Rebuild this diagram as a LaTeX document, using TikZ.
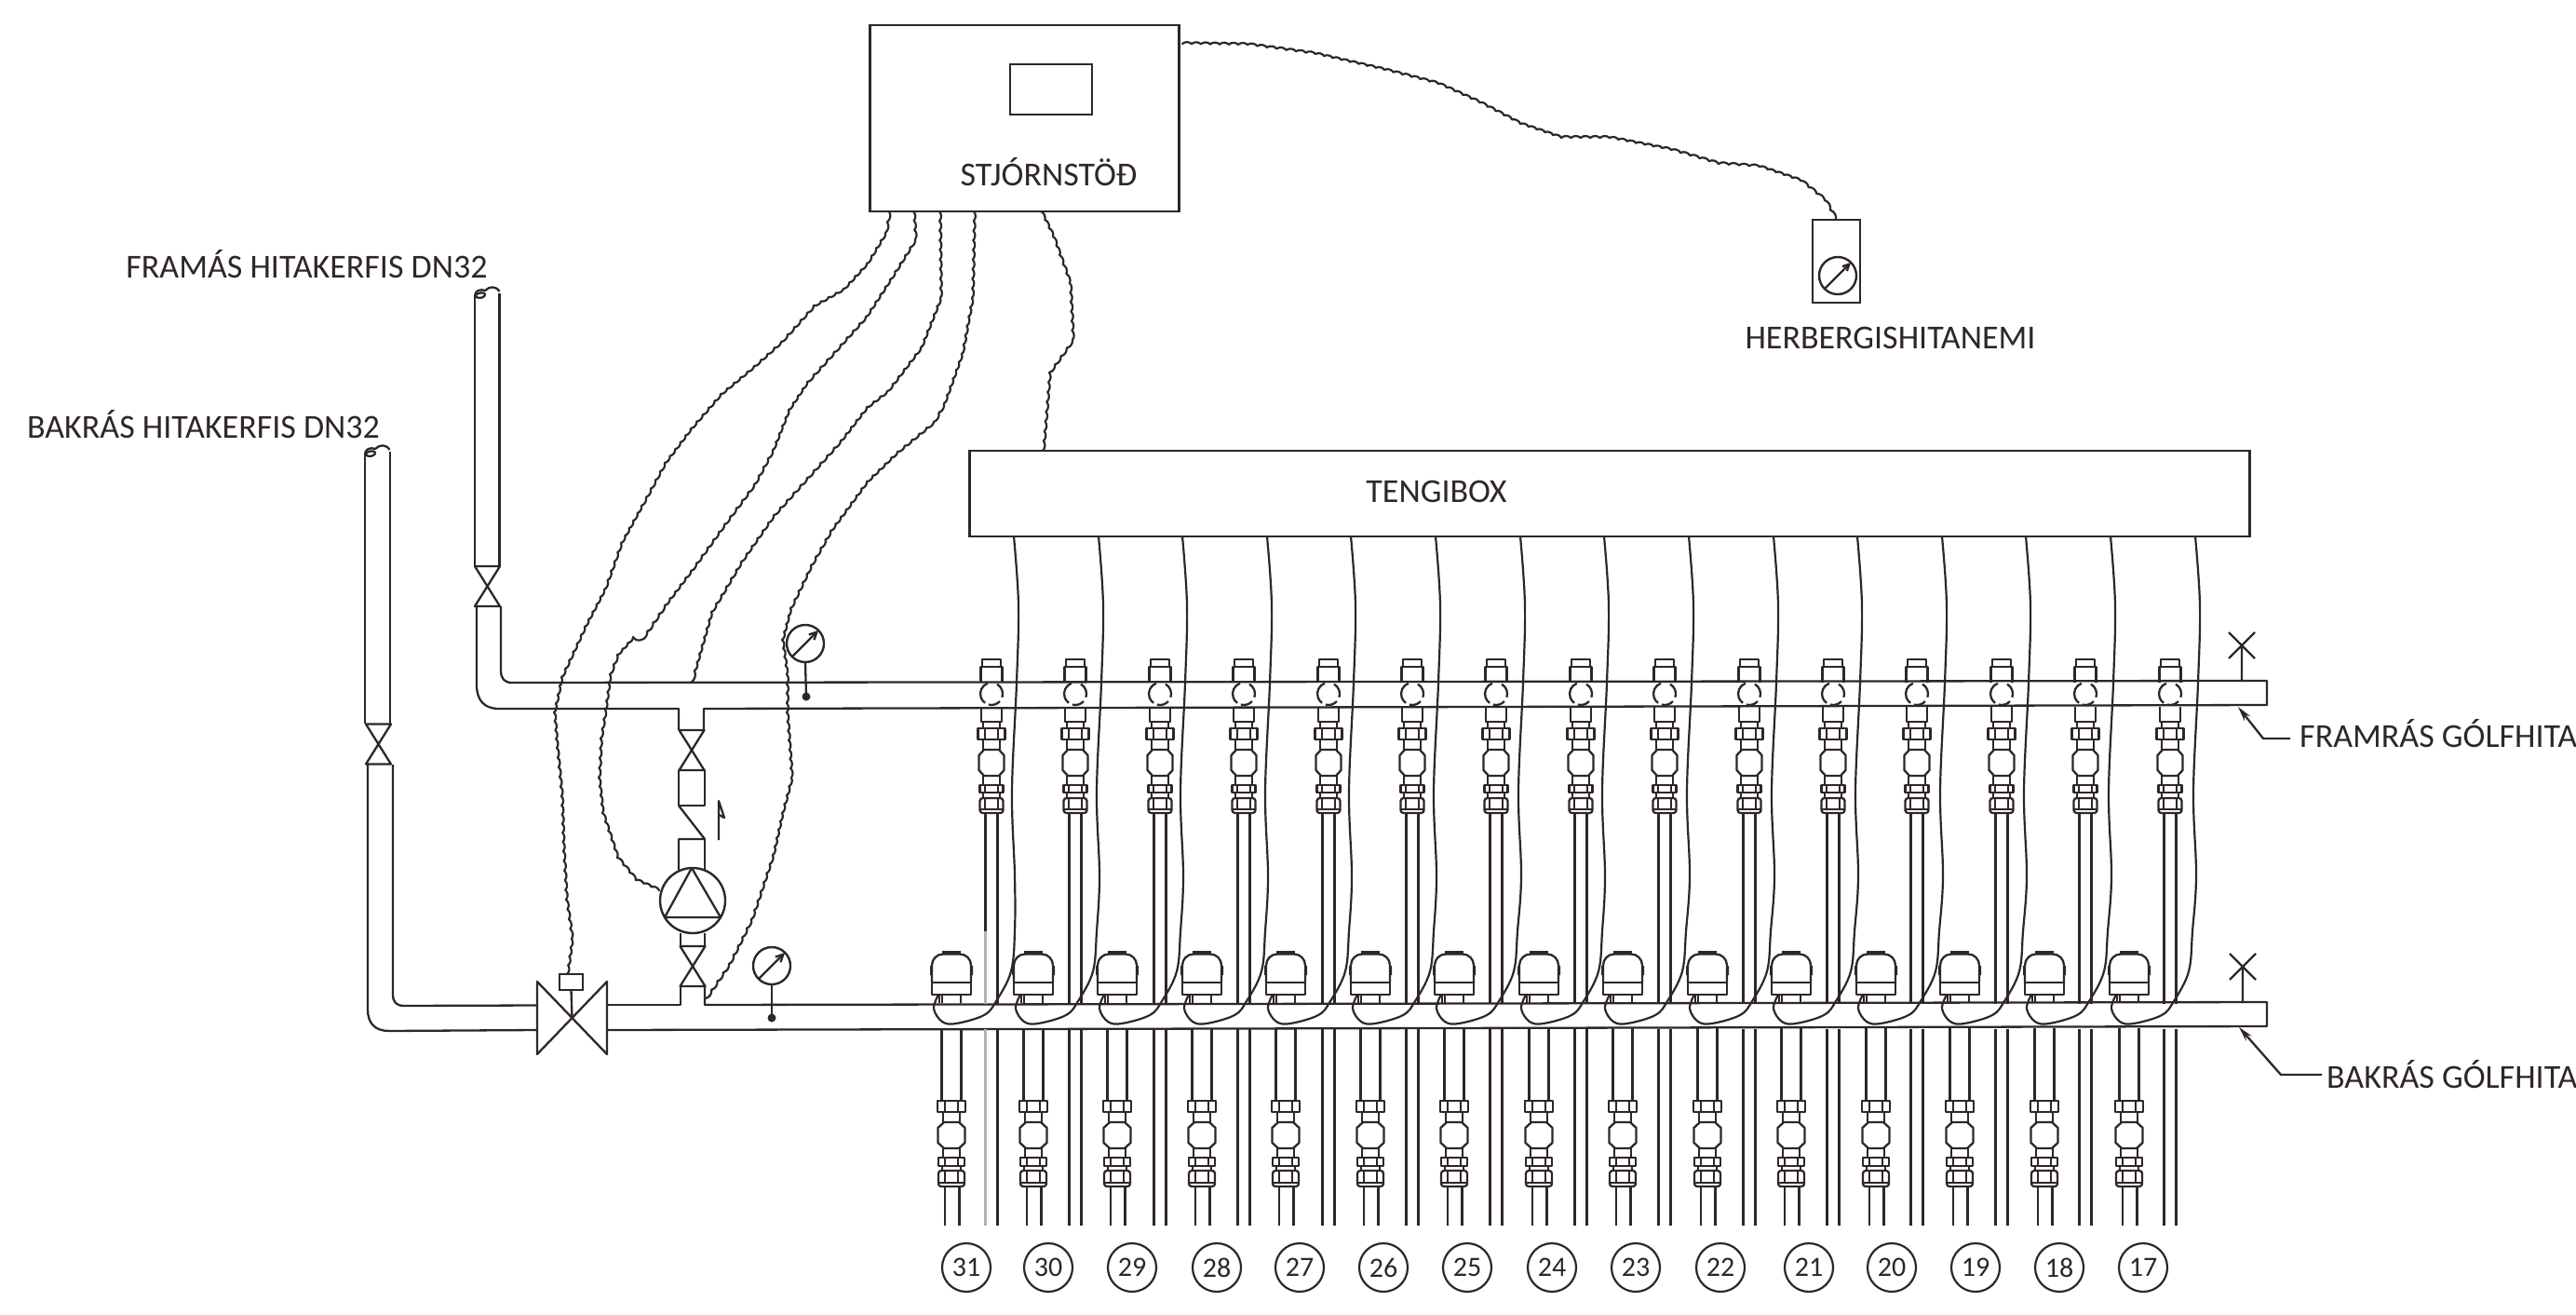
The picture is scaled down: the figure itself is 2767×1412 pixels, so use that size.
\documentclass[tikz,border=0pt]{standalone}
\usepackage{fontspec}
\setmainfont{Carlito}
\usetikzlibrary{calc,arrows.meta}
\definecolor{ink}{HTML}{2E2627}
\newcommand\bumpwire[3]{%
  \foreach \wx/\wy [remember=\wx as \px (initially #1), remember=\wy as \py (initially #2)] in {#3}{%
    \pgfmathtruncatemacro\nn{max(1,round(veclen(\wx-\px,\wy-\py)/10))}%
    \foreach \ii in {1,...,\nn}{%
      \draw[wire] ($(\px,\py)!{(\ii-1)/\nn}!(\wx,\wy)$) to[bend left=40] ($(\px,\py)!{\ii/\nn}!(\wx,\wy)$);
    }%
  }%
}
\tikzset{
  x=1pt,y=-1pt,
  ln/.style={draw=ink,line width=2.3pt,line join=round},
  thin ln/.style={draw=ink,line width=1.9pt,line join=round},
  box/.style={draw=ink,line width=2.6pt,inner sep=0pt,outer sep=0pt,rectangle},
  lab/.style={text=ink,inner sep=0pt,font=\fontsize{36}{38}\selectfont},
  numc/.style={draw=ink,line width=2.2pt,circle,minimum size=52pt,inner sep=0pt,outer sep=0pt,text=ink,font=\fontsize{30}{32}\selectfont},
  gauge/.style={draw=ink,line width=2.4pt,circle,inner sep=0pt,outer sep=0pt},
  wire/.style={draw=ink,line width=2.2pt,line cap=round},
  loopw/.style={draw=ink,line width=2.2pt},
  upfit/.pic={
    \draw[ln] (-10,716)--(-10,708)--(10,708)--(10,716);
    \draw[ln] (-11.5,733)--(-11.5,716)--(11.5,716)--(11.5,733);
    \draw[ln] (0,745) ++(110:12pt) arc[start angle=110,end angle=235,radius=12pt];
    \draw[ln] (0,745) ++(60:12pt) arc[start angle=60,end angle=-18,radius=12pt];
    \draw[ln] (0,745) ++(255:12pt) arc[start angle=255,end angle=318,radius=12pt];
    \draw[ln] (-11,759)--(-11,775)--(11,775)--(11,759);
    \draw[ln] (-9,775)--(-9,782) (9,775)--(9,782);
    \draw[ln] (-14.5,782) rectangle (14.5,794);
    \draw[thin ln] (-7,782)--(-7,794) (7,782)--(7,794);
    \draw[ln] (-9,794)--(-9,806) (9,794)--(9,806);
    \draw[ln] (-8,805)--(8,805)--(13.5,811)--(13.5,827)--(8,833)--(-8,833)--(-13.5,827)--(-13.5,811)--cycle;
    \draw[ln] (-9,833)--(-9,843) (9,833)--(9,843);
    \draw[ln] (-12.5,843) rectangle (12.5,851);
    \draw[thin ln] (-7,843)--(-7,851) (7,843)--(7,851);
    \draw[ln] (-9,851)--(-9,857) (9,851)--(9,857);
    \draw[ln,rounded corners=3pt] (-12.5,857)--(-12.5,873)--(12.5,873)--(12.5,857)--cycle;
    \draw[ln] (-12.5,869)--(12.5,869);
    \draw[thin ln] (-7,857)--(-7,869) (7,857)--(7,869);
  },
  actuator/.pic={
    \fill[ink] (-10,1021) rectangle (10,1024.5);
    \draw[ln,rounded corners=12pt] (-21,1055)--(-21,1024.5)--(21,1024.5)--(21,1055);
    \draw[ln] (-21,1055) rectangle (21,1068);
    \fill[ink] (-23,1037) rectangle (-21,1047) (21,1037) rectangle (23,1047);
    \draw[ln] (-10,1068)--(-10,1077) (10,1068)--(10,1077) (-13,1068)--(-13,1077);
  },
  lowfit/.pic={
    \draw[ln] (-10.5,1104)--(-10.5,1182) (10.5,1104)--(10.5,1182);
    \draw[ln] (-15,1182) rectangle (15,1194);
    \draw[thin ln] (-7,1182)--(-7,1194) (7,1182)--(7,1194);
    \draw[ln] (-9,1194)--(-9,1205) (9,1194)--(9,1205);
    \draw[ln] (-8,1205)--(8,1205)--(14.5,1211)--(14.5,1227)--(8,1233)--(-8,1233)--(-14.5,1227)--(-14.5,1211)--cycle;
    \draw[ln] (-9,1233)--(-9,1243) (9,1233)--(9,1243);
    \draw[ln] (-14,1243) rectangle (14,1252);
    \draw[thin ln] (-7,1243)--(-7,1252) (7,1243)--(7,1252);
    \draw[ln] (-10,1252)--(-10,1257) (10,1252)--(10,1257);
    \draw[ln,rounded corners=3pt] (-14,1257)--(-14,1274)--(14,1274)--(14,1257)--cycle;
    \draw[ln] (-14,1270)--(14,1270);
    \draw[thin ln] (-7,1257)--(-7,1270) (7,1257)--(7,1270);
    \draw[ln] (-7,1274)--(-7,1316) (8.5,1274)--(8.5,1316);
  },
  bowtie/.pic={
    \draw[ln] (-13.5,-21.5)--(13.5,-21.5)--(-13.5,21.5)--(13.5,21.5)--cycle;
  },
  vent/.pic={
    \draw[ln] (-14,-14)--(14,14) (14,-14)--(-14,14) (0,0)--(0,39);
  },
  pipetop/.pic={
    \draw[ln] (0,8)..controls (0,2) and (6,0) .. (11,2) ..controls (16,-3) and (23,-3) .. (26.5,3);
    \draw[ln] (0,8)..controls (3,4) and (10,3) .. (11,6) .. controls (12,9) and (4,12) .. (0,8);
  }
}
\begin{document}
\begin{tikzpicture}
\useasboundingbox (0,0) rectangle (2767,1412);
% top boxes
\node[box,minimum width=332pt,minimum height=200pt] (ctrl) at (1100.5,127) {};
\node[box,minimum width=88pt,minimum height=54pt] (screen) at (1129,96) {};
\node[lab] (ctrllab) at (1126.5,185) {STJÓRNSTÖÐ};
\node[box,minimum width=1375pt,minimum height=92pt] (tengibox) at (1729,530) {};
\node[lab] (tengilab) at (1543,528) {TENGIBOX};
\node[box,minimum width=51pt,minimum height=89pt] (sensor) at (1972.5,280.5) {};
\node[gauge,minimum size=40pt] (sg) at (1974,296) {};
\draw[ln,-{Straight Barb[length=7pt,width=7pt]}] (sg.south west)--(sg.north east);
\node[lab] (senslab) at (2030.5,363) {HERBERGISHITANEMI};
\node[lab] (framlab) at (329.5,284) {FRAMÁS HITAKERFIS DN32};
\node[lab] (baklab) at (218.5,456) {BAKRÁS HITAKERFIS DN32};
\node[lab,anchor=west] (framr) at (2470,788) {FRAMRÁS GÓLFHITA};
\node[lab,anchor=west] (bakr) at (2499,1154) {BAKRÁS GÓLFHITA};
% feeder pipes
\draw[ln] (510,318)--(510,608) (536.5,315)--(536.5,608);
\pic at (510,310) {pipetop};
\pic at (523.5,629.5) {bowtie};
\draw[ln] (392,488)--(392,777) (419,485)--(419,777);
\pic at (392,480) {pipetop};
\pic at (406.5,799) {bowtie};
% upper main
\draw[ln] (512,651)--(512,735)..controls (512,752) and (520,761) .. (536,761)--(729,761)--(729,784);
\draw[ln] (756,784)--(756,761)--(2435,757)--(2435,731)--(550,733)..controls (542,733) and (538,729) .. (538,720)--(538,651);
% lower main
\draw[ln] (395,821)--(395,1084)..controls (395,1099) and (403,1107) .. (418,1107)--(577,1106);
\draw[ln] (422,821)--(422,1068)..controls (422,1076) and (426,1080) .. (434,1080)--(577,1079.5);
\draw[ln] (652,1079)--(731,1079)--(731,1059);
\draw[ln] (757,1059)--(757,1079)--(2435,1076)--(2435,1102)--(652,1106);
% motor valve
\draw[ln] (577,1054)--(652,1132)--(652,1054)--(577,1132)--cycle;
\node[box,minimum width=25pt,minimum height=17pt] (act) at (613.5,1054.5) {};
\coordinate (mvc) at (614.5,1093);
\draw[ln] (act.south)--(mvc);
% pump branch
\pic at (743,805.5) {bowtie};
\draw[ln] (729,827) rectangle (757,865);
\draw[ln] (729,865)--(757,901)--(729,901)--(729,934);
\draw[ln] (757,901)--(757,934);
\node[gauge,minimum size=70pt] (pump) at (744,967) {};
\draw[ln] (743,932)--(714,985)--(774,985)--cycle;
\draw[ln] (731,1002)--(731,1016)--(757,1016)--(757,1002);
\pic at (744,1037.5) {bowtie};
\draw[ln] (772,902)--(772,860)--(778,878)--(772.5,875);
% gauges
\node[gauge,minimum size=40pt] (g1) at (865,691) {};
\coordinate (g1d) at (866,748);
\draw[ln,-{Straight Barb[length=8pt,width=8pt]}] (g1.south west)--(g1.north east);
\draw[ln] (g1.south)--(g1d);
\fill[ink] (g1d) circle[radius=4.5pt];
\node[gauge,minimum size=40pt] (g2) at (829,1037) {};
\coordinate (g2d) at (829,1093);
\draw[ln,-{Straight Barb[length=8pt,width=8pt]}] (g2.south west)--(g2.north east);
\draw[ln] (g2.south)--(g2d);
\fill[ink] (g2d) circle[radius=4.5pt];
% vents
\pic at (2408,693) {vent};
\pic at (2409,1038) {vent};
% leaders
\coordinate (a1) at (2404,759); \coordinate (a1m) at (2431,793); \coordinate (a1e) at (2460,793);
\coordinate (a2) at (2405,1103); \coordinate (a2m) at (2450,1154); \coordinate (a2e) at (2494,1154);
\draw[ln,-{Stealth[length=16pt,width=8pt]}] (a1e)--(a1m)--(a1);
\draw[ln,-{Stealth[length=16pt,width=8pt]}] (a2e)--(a2m)--(a2);
% scalloped wires
\bumpwire{1270}{47}{1340/48,1413/58,1487/75,1545/90,1589/110,1633/133,1677/148,1729/148,1795/161,1846/176,1890/179,1934/194,1960/215,1972/236}
\bumpwire{1118}{227}{1131/254,1149/304,1152/365,1127/400,1120/484}
\bumpwire{955}{227}{951/250,931/283,906/310,874/328,839/367,810/393,774/423,742/460,714/497,689/543,667/583,649/633,628/673,603/727,595/765,598/803,603/855,605/914,608/966,614/1008,609/1046}
\bumpwire{981}{227}{983/257,956/300,930/340,903/370,867/410,847/440,830/483,810/520,778/563,742/613,714/650,689/687,680/684,663/703,655/724,650/762,645/793,643/835,647/873,663/921,683/945,708/956}
\bumpwire{1009}{227}{1010/320,989/373,953/420,931/437,903/473,867/513,831/553,796/603,764/657,746/720,742/733}
\bumpwire{1046}{227}{1044/320,1033/380,1014/433,1003/453,964/485,931/517,892/570,871/607,849/653,840/687,845/724,845/765,850/835,840/873,830/918,807/987,783/1035,758/1072}
% repeated columns
\foreach \u/\c/\T/\nx/\n in {
 1065/1022/1089/1038/31,1155/1110/1180/1126/30,1246/1200/1270/1216/29,1336/1291/1361/1307/28,
 1427/1381/1451/1396/27,1517/1472/1542/1486/26,1607/1562/1633/1576/25,1698/1653/1723/1667/24,
 1788/1743/1814/1757/23,1879/1834/1905/1848/22,1969/1924/1995/1943/21,2059/2015/2086/2032/20,
 2150/2105/2176/2122/19,2240/2196/2267/2212/18,2331/2287/2358/2302/17}{
  \pic at (\u,0) {upfit};
  \draw[ln] (\u-6.5,873)--(\u-6.5,1078) (\u+6.5,873)--(\u+6.5,1078);
  \draw[ln] (\u-6.5,1105)--(\u-6.5,1316) (\u+6.5,1105)--(\u+6.5,1316);
  \pic at (\c,0) {actuator};
  \pic at (\c,0) {lowfit};
  \coordinate (wt\n) at (\T,576);
  \draw[loopw] plot[smooth,tension=.6] coordinates {(wt\n)(\T+5,650)(\T+3,733)(\T-2,850)(\T+1,940)(\c+68,1000)(\c+64,1043)(\c+48,1075)(\c+35,1090)(\c+5,1099)(\c-10,1097)(\c-19,1083)(\c-14,1068)};
  \node[numc] (n\n) at (\nx,1361) {\n};
}
\draw[draw=gray!60,line width=2.3pt] (1058.5,1000)--(1058.5,1078) (1058.5,1105)--(1058.5,1316);
\end{tikzpicture}
\end{document}
